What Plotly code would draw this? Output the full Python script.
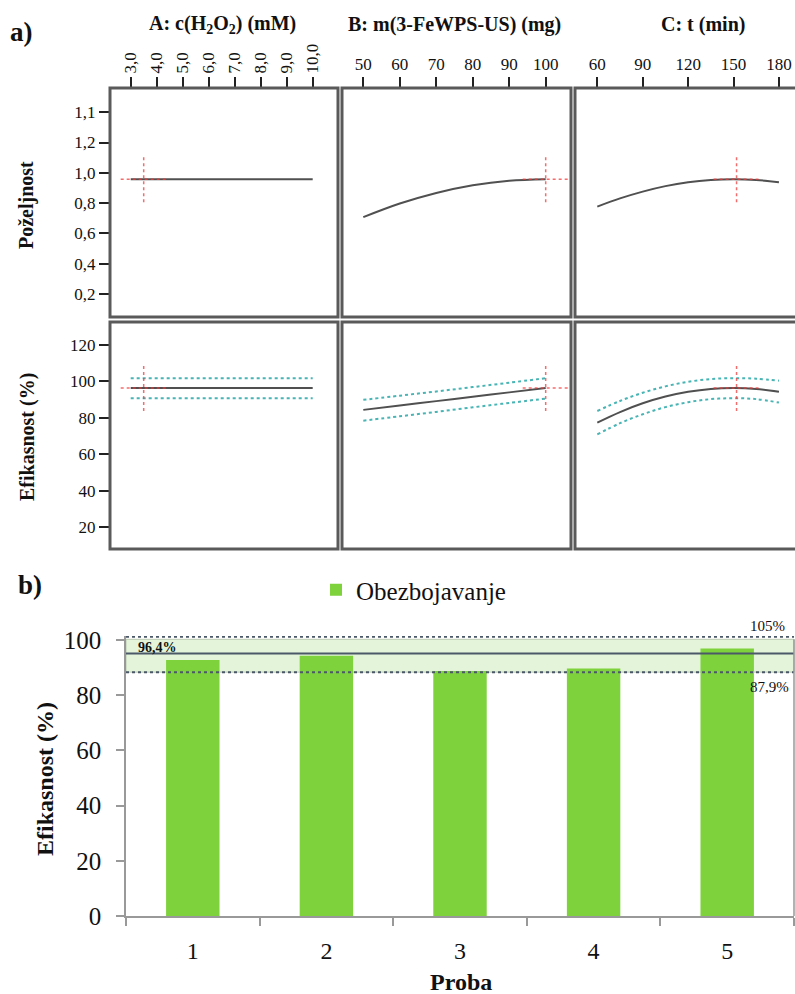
import plotly.graph_objects as go

W, H = 795, 994
FONT = "Liberation Serif, Times New Roman, serif"

# ---------------- data: part a) ----------------
A_x = [3.0, 10.0]
A_des = [0.958, 0.958]
A_eff = [96.4, 96.4]
A_up = [101.8, 101.8]
A_lo = [90.8, 90.8]

B_x = [50, 60, 70, 80, 90, 100]
B_des = [0.707, 0.797, 0.867, 0.918, 0.948, 0.958]
B_eff = [84.4, 86.8, 89.2, 91.6, 94.0, 96.4]
B_up = [89.9, 92.2, 94.5, 96.9, 99.3, 101.8]
B_lo = [78.5, 80.9, 83.3, 85.8, 88.2, 90.6]

C_x = [60, 75, 90, 105, 120, 135, 150, 165, 180]
C_des = [0.777, 0.831, 0.876, 0.912, 0.938, 0.953, 0.958, 0.953, 0.938]
C_eff = [77.4, 83.2, 88.0, 91.7, 94.3, 95.9, 96.4, 95.9, 94.3]
C_up = [83.8, 89.3, 93.8, 97.3, 99.8, 101.3, 101.8, 101.5, 100.4]
C_lo = [71.0, 77.1, 82.0, 85.9, 88.6, 90.3, 90.8, 90.3, 88.4]

opt_x = [3.5, 100, 152]          # optimal factor settings (A, B, C)
opt_des = 0.958
opt_eff = 96.4

A_ticks = [3, 4, 5, 6, 7, 8, 9, 10]
A_ticktext = ["3,0", "4,0", "5,0", "6,0", "7,0", "8,0", "9,0", "10,0"]
B_ticks = [50, 60, 70, 80, 90, 100]
C_ticks = [60, 90, 120, 150, 180]
des_ticks = [0.2, 0.4, 0.6, 0.8, 1.0, 1.2, 1.4]
des_ticktext = ["0,2", "0,4", "0,6", "0,8", "1,0", "1,2", "1,1"]
eff_ticks = [20, 40, 60, 80, 100, 120]

titles = ["<b>A: c(H<sub>2</sub>O<sub>2</sub>) (mM)</b>",
          "<b>B: m(3-FeWPS-US) (mg)</b>",
          "<b>C: t (min)</b>"]

# ---------------- data: part b) ----------------
proba = ["1", "2", "3", "4", "5"]
efik = [92.8, 94.3, 88.8, 89.7, 97.0]
pred_line = 95.2
pi_low = 88.4
pi_high = 101.2
band_top = 100.3
lbl_mean = "96,4%"
lbl_high = "105%"
lbl_low = "87,9%"


def px(x):
    return x / W


def py(y):
    return 1 - y / H


fig = go.Figure()

# panel geometry (pixels)
cols = [(110, 338), (342, 571), (575, 795)]
rows = [(88, 317), (322, 549)]
xr = [[2.204, 10.973], [44.16, 106.94], [45.27, 190.6]]
yr = [[0.048, 1.56], [8.1, 132.6]]

GRAY = "#505050"
TEAL = "#48b4b4"
RED = "rgba(240,60,60,0.75)"

series = [
    (A_x, A_des, A_eff, A_up, A_lo),
    (B_x, B_des, B_eff, B_up, B_lo),
    (C_x, C_des, C_eff, C_up, C_lo),
]
half_w_px = 23
half_h_px = 23

for ci, (xs, des, eff, up, lo) in enumerate(series):
    k1 = ci + 1
    k2 = ci + 4
    ax1 = "" if k1 == 1 else str(k1)
    ax2 = str(k2)
    xscale = (cols[ci][1] - cols[ci][0]) / (xr[ci][1] - xr[ci][0])
    hw = half_w_px / xscale
    # desirability
    fig.add_trace(go.Scatter(x=xs, y=des, mode="lines", line=dict(color=GRAY, width=2, shape="spline"),
                             xaxis="x" + ax1, yaxis="y" + ax1, showlegend=False, hoverinfo="skip"))
    s1 = (rows[0][1] - rows[0][0]) / (yr[0][1] - yr[0][0])
    hh = half_h_px / s1
    ox = opt_x[ci]
    fig.add_trace(go.Scatter(x=[ox - hw, ox + hw], y=[opt_des, opt_des], mode="lines",
                             line=dict(color=RED, width=1.5, dash="dot"),
                             xaxis="x" + ax1, yaxis="y" + ax1, showlegend=False, hoverinfo="skip"))
    fig.add_trace(go.Scatter(x=[ox, ox], y=[opt_des - hh, opt_des + hh], mode="lines",
                             line=dict(color=RED, width=1.5, dash="dot"),
                             xaxis="x" + ax1, yaxis="y" + ax1, showlegend=False, hoverinfo="skip"))
    # efficiency
    for yy, col, dash, w in [(up, TEAL, "dot", 2), (lo, TEAL, "dot", 2), (eff, GRAY, "solid", 2)]:
        fig.add_trace(go.Scatter(x=xs, y=yy, mode="lines", line=dict(color=col, width=w, dash=dash, shape="spline"),
                                 xaxis="x" + ax2, yaxis="y" + ax2, showlegend=False, hoverinfo="skip"))
    s2 = (rows[1][1] - rows[1][0]) / (yr[1][1] - yr[1][0])
    hh2 = half_h_px / s2
    fig.add_trace(go.Scatter(x=[ox - hw, ox + hw], y=[opt_eff, opt_eff], mode="lines",
                             line=dict(color=RED, width=1.5, dash="dot"),
                             xaxis="x" + ax2, yaxis="y" + ax2, showlegend=False, hoverinfo="skip"))
    fig.add_trace(go.Scatter(x=[ox, ox], y=[opt_eff - hh2, opt_eff + hh2], mode="lines",
                             line=dict(color=RED, width=1.5, dash="dot"),
                             xaxis="x" + ax2, yaxis="y" + ax2, showlegend=False, hoverinfo="skip"))

layout = dict(
    width=W, height=H, autosize=False,
    margin=dict(l=0, r=0, t=0, b=0, autoexpand=False),
    paper_bgcolor="white", plot_bgcolor="white",
    font=dict(family=FONT, color="#111", size=17),
)

tick_x = [
    dict(tickvals=A_ticks, ticktext=A_ticktext, tickangle=-90),
    dict(tickvals=B_ticks, ticktext=[str(v) for v in B_ticks], tickangle=0),
    dict(tickvals=C_ticks, ticktext=[str(v) for v in C_ticks], tickangle=0),
]

for ri in range(2):
    for ci in range(3):
        k = ri * 3 + ci + 1
        sfx = "" if k == 1 else str(k)
        xd = [px(cols[ci][0]), min(1.0, px(cols[ci][1]))]
        yd = [py(rows[ri][1]), py(rows[ri][0])]
        xa = dict(domain=xd, range=xr[ci], anchor="y" + sfx, showgrid=False, zeroline=False,
                  showline=False, fixedrange=True, automargin=False)
        if ri == 0:
            xa.update(side="top", ticks="outside", ticklen=10, tickwidth=2, tickcolor="#222",
                      tickfont=dict(size=17, family=FONT, color="#111"), **tick_x[ci])
        else:
            xa.update(showticklabels=False, ticks="")
        ya = dict(domain=yd, range=yr[ri], anchor="x" + sfx, showgrid=False, zeroline=False,
                  showline=False, fixedrange=True, automargin=False)
        if ci == 0:
            if ri == 0:
                ya.update(tickvals=des_ticks, ticktext=des_ticktext)
            else:
                ya.update(tickvals=eff_ticks, ticktext=[str(v) for v in eff_ticks])
            ya.update(ticks="outside", ticklen=10, tickwidth=2, tickcolor="#222",
                      tickfont=dict(size=17, family=FONT, color="#111"))
        else:
            ya.update(showticklabels=False, ticks="")
        layout["xaxis" + sfx] = xa
        layout["yaxis" + sfx] = ya

# ---------------- part b) bar chart ----------------
fig.add_trace(go.Bar(x=proba, y=efik, name="Obezbojavanje", marker=dict(color="#7ed23c", line=dict(width=0)),
                     width=0.4, xaxis="x7", yaxis="y7", showlegend=True, hoverinfo="skip"))

layout["xaxis7"] = dict(domain=[px(126), px(794)], anchor="y7", type="category", range=[-0.5, 4.5],
                        tickson="boundaries", ticks="outside", ticklen=8, tickcolor="#999", tickwidth=1.5,
                        showline=True, linecolor="#999", linewidth=1.5, showgrid=False, zeroline=False,
                        ticklabelstandoff=12, automargin=False,
                        tickfont=dict(size=24, family=FONT, color="#111"), fixedrange=True)
layout["yaxis7"] = dict(domain=[py(916), py(636)], anchor="x7", range=[0, 101.5],
                        tickvals=[0, 20, 40, 60, 80, 100], ticks="outside", ticklen=8, tickcolor="#999",
                        tickwidth=1.5, showline=True, linecolor="#999", linewidth=1.5, showgrid=False,
                        zeroline=False, automargin=False, ticklabelstandoff=10,
                        tickfont=dict(size=25, family=FONT, color="#111"), fixedrange=True)
layout["showlegend"] = True
layout["legend"] = dict(x=px(316), y=py(590), xanchor="left", yanchor="middle", orientation="h",
                        font=dict(size=25, family=FONT, color="#111"), bgcolor="rgba(0,0,0,0)")

shapes = []
# panel borders
for ri in range(2):
    for ci in range(3):
        x0, x1 = cols[ci]
        if ci == 2:
            x1 = 803
        y0, y1 = rows[ri]
        shapes.append(dict(type="rect", xref="paper", yref="paper", x0=px(x0), x1=px(x1), y0=py(y1), y1=py(y0),
                           line=dict(color="#5a5a5a", width=3), layer="above"))
# prediction band
shapes.append(dict(type="rect", xref="x7 domain", yref="y7", x0=0, x1=1, y0=pi_low, y1=band_top,
                   fillcolor="#e4f4da", line=dict(color="#b9c9b0", width=1), layer="below"))
shapes.append(dict(type="line", xref="x7 domain", yref="y7", x0=0, x1=1, y0=pi_high, y1=pi_high,
                   line=dict(color="#4a5868", width=2, dash="dot"), layer="above"))
shapes.append(dict(type="line", xref="x7 domain", yref="y7", x0=0, x1=1, y0=pi_low, y1=pi_low,
                   line=dict(color="#4a5868", width=2, dash="dot"), layer="above"))
shapes.append(dict(type="line", xref="x7 domain", yref="y7", x0=0, x1=1, y0=pred_line, y1=pred_line,
                   line=dict(color="#4a5868", width=2), layer="above"))
shapes.append(dict(type="line", xref="x7 domain", yref="y7", x0=1, x1=1, y0=0, y1=band_top,
                   line=dict(color="#999", width=1.5), layer="above"))
layout["shapes"] = shapes


def note(x, y, text, size, bold=False, angle=0, xanchor="center", yanchor="middle"):
    t = "<b>" + text + "</b>" if bold else text
    return dict(x=px(x), y=py(y), xref="paper", yref="paper", text=t, showarrow=False,
                textangle=angle, xanchor=xanchor, yanchor=yanchor,
                font=dict(size=size, family=FONT, color="#111"))


ann = []
for ci, t in enumerate(titles):
    cx = [222, 454, 703][ci]
    ann.append(note(cx, 24, t, 20))
ann.append(note(27, 205, "Poželjnost", 20, bold=True, angle=-90))
ann.append(note(27, 437, "Efikasnost (%)", 20, bold=True, angle=-90))
ann.append(note(21, 32, "a)", 27, bold=True))
ann.append(note(30, 585, "b)", 27, bold=True))
ann.append(note(45, 779, "Efikasnost (%)", 24, bold=True, angle=-90))
ann.append(note(461, 982, "Proba", 24, bold=True))
ann.append(note(136, 647, lbl_mean, 14, bold=True, xanchor="left"))
ann.append(note(787, 626, lbl_high, 15, xanchor="right"))
ann.append(note(791, 687, lbl_low, 15, xanchor="right"))
layout["annotations"] = ann

fig.update_layout(**layout)
fig.write_html("out.html")
